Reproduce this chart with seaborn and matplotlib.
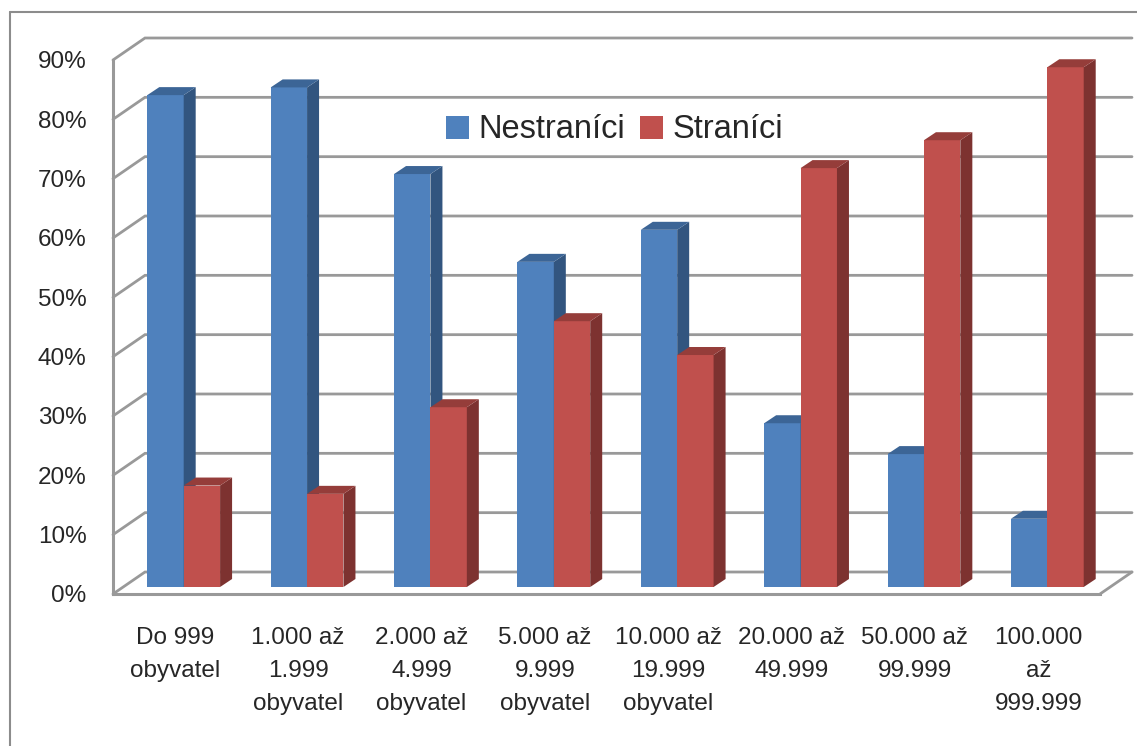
import numpy as np
import pandas as pd
import seaborn as sb
import matplotlib.pyplot as plt
from matplotlib.patches import Polygon
from matplotlib.lines import Line2D

# data (percent)
kategorie = ["Do 999\nobyvatel", "1.000 až\n1.999\nobyvatel", "2.000 až\n4.999\nobyvatel",
             "5.000 až\n9.999\nobyvatel", "10.000 až\n19.999\nobyvatel", "20.000 až\n49.999",
             "50.000 až\n99.999", "100.000\naž\n999.999"]
nestranici = [82.9, 84.2, 69.6, 54.8, 60.2, 27.6, 22.4, 11.5]
stranici = [17.1, 15.7, 30.3, 44.8, 39.1, 70.6, 75.3, 87.6]
skupiny = ["Nestraníci", "Straníci"]
yticks = [0, 10, 20, 30, 40, 50, 60, 70, 80, 90]

barvy = {"Nestraníci": "#4F81BD", "Straníci": "#C0504D"}
bok = {"Nestraníci": "#32557F", "Straníci": "#7D3230"}
vrch = {"Nestraníci": "#3C6596", "Straníci": "#953D3A"}
seda = "#999999"

sb.set_style("white")
plt.rcParams['font.family'] = ['Liberation Sans', 'DejaVu Sans']

df = pd.DataFrame({
    "kategorie": kategorie * 2,
    "podil": nestranici + stranici,
    "skupina": [skupiny[0]] * len(kategorie) + [skupiny[1]] * len(kategorie),
})

W, H = 1137, 746
fig = plt.figure(figsize=(W / 100, H / 100), dpi=100)
fig.patch.set_facecolor("white")
ax = fig.add_axes([113 / W, 1 - 594 / H, 987 / W, 534 / H])

sb.barplot(data=df, x="kategorie", y="podil", hue="skupina", hue_order=skupiny,
           palette=barvy, width=0.59, gap=0, saturation=1, errorbar=None,
           linewidth=0, ax=ax)
ax.set_xlim(-0.5, 7.5)
ax.set_ylim(0, 90)

# pixel -> data conversion for the fake 3d depth
sx = ax.transData.transform((1, 0))[0] - ax.transData.transform((0, 0))[0]
sy = ax.transData.transform((0, 1))[1] - ax.transData.transform((0, 0))[1]
bx, by = 9 / sx, 7 / sy      # bar plane offset from front
dx, dy = 12 / sx, 8 / sy     # bar depth
gx, gy = 32 / sx, 22 / sy    # back wall offset

for i, (cont, sk) in enumerate(zip(ax.containers, skupiny)):
    for p in cont.patches:
        x0 = p.get_x() + bx
        y0 = by
        p.set_x(x0)
        p.set_y(y0)
        p.set_zorder(3 + i)
        p.set_clip_on(False)
        x1 = x0 + p.get_width()
        top = y0 + p.get_height()
        side = Polygon([(x1, y0), (x1 + dx, y0 + dy), (x1 + dx, top + dy), (x1, top)],
                       closed=True, fc=bok[sk], ec="none", zorder=3 + i, clip_on=False)
        roof = Polygon([(x0, top), (x1, top), (x1 + dx, top + dy), (x0 + dx, top + dy)],
                       closed=True, fc=vrch[sk], ec="none", zorder=3 + i, clip_on=False)
        ax.add_patch(side)
        ax.add_patch(roof)

# back wall gridlines + left wall diagonals
for t in yticks:
    ax.plot([-0.5, -0.5 + gx, 7.5 + gx], [t, t + gy, t + gy], color=seda, lw=2,
            clip_on=False, zorder=1, solid_joinstyle="miter")
ax.plot([7.5, 7.5 + gx], [0, gy], color=seda, lw=2, clip_on=False, zorder=1)

sb.despine(ax=ax)
for s in ["left", "bottom"]:
    ax.spines[s].set_color(seda)
    ax.spines[s].set_linewidth(2.2)
    ax.spines[s].set_zorder(2)

ax.set_yticks(yticks)
ax.set_yticklabels([f"{t}%" for t in yticks])
ax.tick_params(axis="y", length=6, width=2, color=seda, pad=13, labelsize=17.5)
ax.set_xticks(range(len(kategorie)))
ax.set_xticklabels(kategorie, linespacing=1.65)
ax.set_xticks(np.arange(-0.5, len(kategorie), 1), minor=True)
ax.tick_params(axis="x", which="major", length=0, pad=24, labelsize=17.5)
ax.tick_params(axis="x", which="minor", length=6, width=2, color=seda)
ax.set_xlabel("")
ax.set_ylabel("")

sb.move_legend(ax, "center left", bbox_to_anchor=(446 / W, 1 - 130 / H),
               bbox_transform=fig.transFigure, ncol=2, frameon=False, title=None,
               fontsize=23.5, handlelength=0.7, handleheight=0.7, handletextpad=0.3,
               columnspacing=0.45, borderpad=0, borderaxespad=0)

# chart area border (left and top edges visible)
fig.add_artist(Line2D([10 / W, 10 / W], [0, 1 - 12 / H], color="#8c8c8c", lw=1.5))
fig.add_artist(Line2D([10 / W, 1], [1 - 12 / H, 1 - 12 / H], color="#8c8c8c", lw=1.5))

fig.savefig("out.png", dpi=100)
